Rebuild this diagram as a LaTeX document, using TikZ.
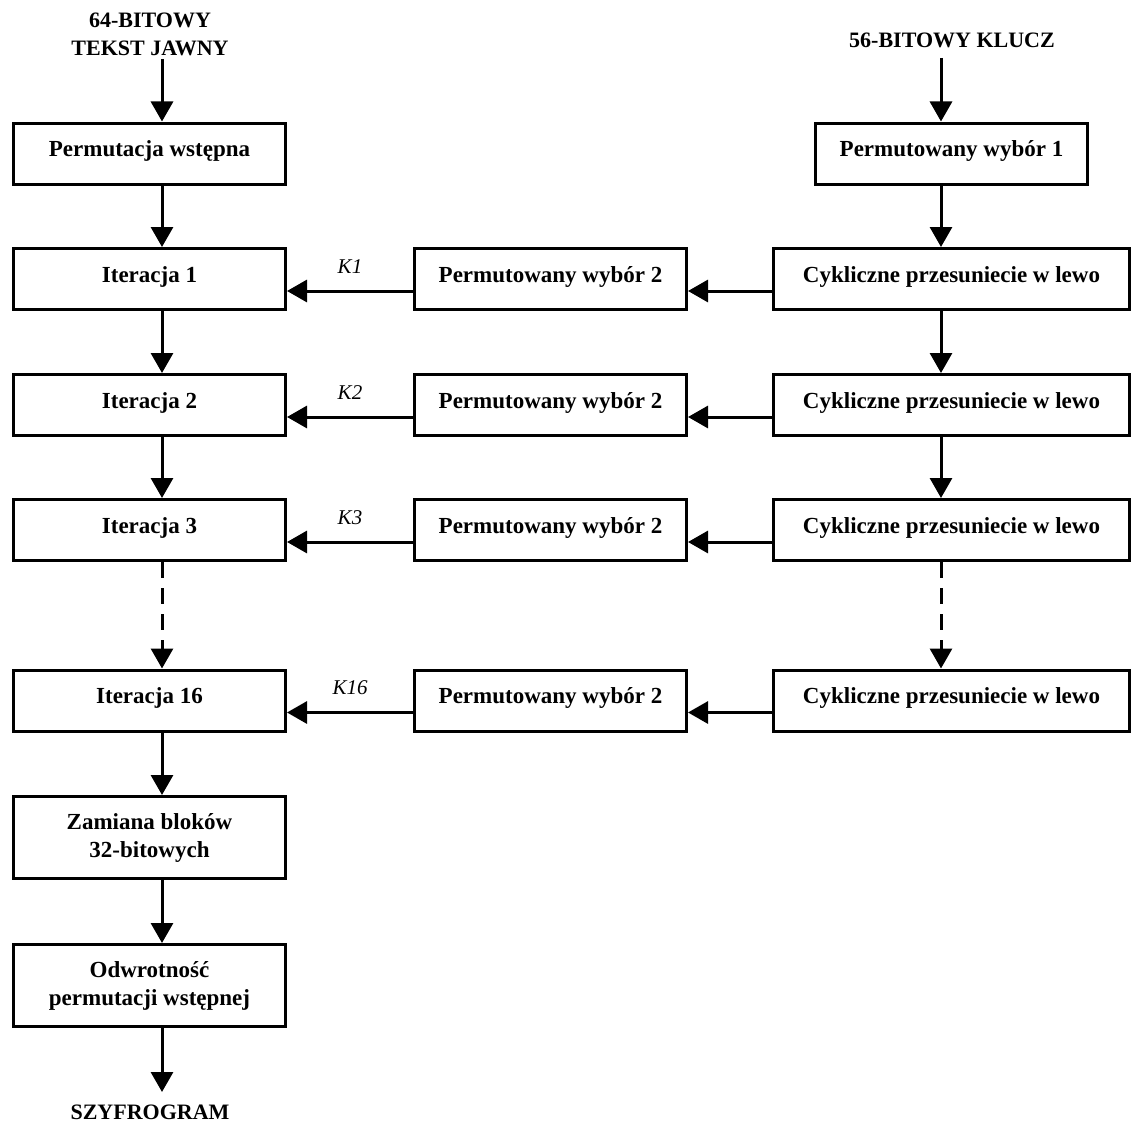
\documentclass[tikz,border=0pt]{standalone}
\usepackage{fontspec}
\setmainfont{Liberation Serif}
\usetikzlibrary{arrows.meta}
\begin{document}
\begin{tikzpicture}[x=1pt,y=-1pt,
  every node/.style={inner sep=0pt},
  boxfont/.style={font=\bfseries\fontsize{23}{28}\selectfont},
  box/.style={draw, line width=3pt, minimum height=61pt, boxfont,
              text height=14pt, text depth=8pt},
  narrowbox/.style={box, minimum width=272pt},
  widebox/.style={box, minimum width=356pt},
  tallbox/.style={draw, line width=3pt, minimum width=272pt, minimum height=82pt,
                  align=center, boxfont},
  title/.style={font=\bfseries\fontsize{22}{28}\selectfont, align=center},
  klabel/.style={font=\itshape\fontsize{21}{24}\selectfont},
  arr/.style={line width=3pt, -{Triangle[length=20pt,width=22pt]}},
  dasharr/.style={arr, dash pattern=on 16pt off 10pt}
]
\useasboundingbox (0,0) rectangle (1136,1124);

% axes of the two vertical flows
\coordinate (lx) at (162,0);
\coordinate (rx) at (941,0);

% titles
\node[title] (plain) at (150,34) {64-BITOWY\\TEKST JAWNY};
\node[title] (key) at (952,40) {56-BITOWY KLUCZ};
\node[title] (cipher) at (150,1112) {SZYFROGRAM};
\coordinate (plainend) at (162,59);
\coordinate (keyend) at (941,58);
\coordinate (cipherend) at (162,1092);

% data path
\node[narrowbox] (p0)  at (149.5,153.5) {Permutacja wstępna};
\node[narrowbox] (it1) at (149.5,279)   {Iteracja 1};
\node[narrowbox] (it2) at (149.5,405)   {Iteracja 2};
\node[narrowbox] (it3) at (149.5,530)   {Iteracja 3};
\node[narrowbox] (it16) at (149.5,700.5) {Iteracja 16};
\node[tallbox] (swap) at (149.5,837.5) {Zamiana bloków\\32-bitowych};
\node[tallbox] (inv)  at (149.5,985.5) {Odwrotność\\permutacji wstępnej};

% key schedule: permuted choice 2
\node[narrowbox] (q1)  at (550.5,279)   {Permutowany wybór 2};
\node[narrowbox] (q2)  at (550.5,405)   {Permutowany wybór 2};
\node[narrowbox] (q3)  at (550.5,530)   {Permutowany wybór 2};
\node[narrowbox] (q16) at (550.5,700.5) {Permutowany wybór 2};

% key schedule: permuted choice 1 and shifts
\node[narrowbox] (pc1) at (951.5,153.5) {Permutowany wybór 1};
\node[widebox] (c1)  at (951.5,279)   {Cykliczne przesuniecie w lewo};
\node[widebox] (c2)  at (951.5,405)   {Cykliczne przesuniecie w lewo};
\node[widebox] (c3)  at (951.5,530)   {Cykliczne przesuniecie w lewo};
\node[widebox] (c16) at (951.5,700.5) {Cykliczne przesuniecie w lewo};

% vertical flow, data
\draw[arr] (plainend) -- (p0.north -| lx);
\draw[arr] (p0.south -| lx) -- (it1.north -| lx);
\draw[arr] (it1.south -| lx) -- (it2.north -| lx);
\draw[arr] (it2.south -| lx) -- (it3.north -| lx);
\draw[dasharr] (it3.south -| lx) -- (it16.north -| lx);
\draw[arr] (it16.south -| lx) -- (swap.north -| lx);
\draw[arr] (swap.south -| lx) -- (inv.north -| lx);
\draw[arr] (inv.south -| lx) -- (cipherend);

% vertical flow, key
\draw[arr] (keyend) -- (pc1.north -| rx);
\draw[arr] (pc1.south -| rx) -- (c1.north -| rx);
\draw[arr] (c1.south -| rx) -- (c2.north -| rx);
\draw[arr] (c2.south -| rx) -- (c3.north -| rx);
\draw[dasharr] (c3.south -| rx) -- (c16.north -| rx);

% subkeys
\foreach \i in {1,2,3,16} {
  \draw[arr] ([yshift=-12pt]c\i.west) -- ([yshift=-12pt]q\i.east);
  \draw[arr] ([yshift=-12pt]q\i.west) --
     node[klabel, anchor=south, yshift=16pt] (k\i) {K\i} ([yshift=-12pt]it\i.east);
}
\end{tikzpicture}
\end{document}
